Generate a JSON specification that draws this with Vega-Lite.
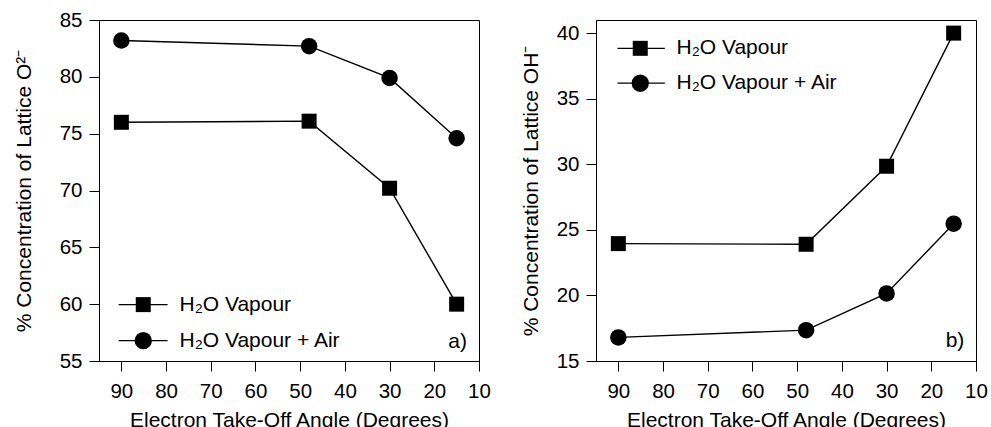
{
  "$schema": "https://vega.github.io/schema/vega-lite/v6.json",
  "padding": {"left": 12, "top": 9, "right": 0, "bottom": 0},
  "spacing": 28,
  "config": {
    "font": "Liberation Sans",
    "view": {"stroke": "black", "strokeWidth": 1},
    "axis": {"domainColor": "black", "tickColor": "black", "labelColor": "black", "titleColor": "black", "labelFont": "Liberation Sans", "titleFont": "Liberation Sans", "labelFontSize": 20.5, "titleFontSize": 21, "titleFontWeight": "normal", "tickSize": 10, "grid": false, "domainWidth": 1, "tickWidth": 1, "labelFlush": false, "labelOverlap": false}
  },
  "resolve": {"scale": {"x": "independent", "y": "independent", "shape": "independent"}},
  "datasets": {
    "o2": [
      {"series": "H₂O Vapour", "angle": 90, "value": 76.0},
      {"series": "H₂O Vapour", "angle": 48, "value": 76.1},
      {"series": "H₂O Vapour", "angle": 30, "value": 70.2},
      {"series": "H₂O Vapour", "angle": 15, "value": 60.0},
      {"series": "H₂O Vapour + Air", "angle": 90, "value": 83.2},
      {"series": "H₂O Vapour + Air", "angle": 48, "value": 82.7},
      {"series": "H₂O Vapour + Air", "angle": 30, "value": 79.9},
      {"series": "H₂O Vapour + Air", "angle": 15, "value": 74.6}
    ],
    "oh": [
      {"series": "H₂O Vapour", "angle": 90, "value": 23.95},
      {"series": "H₂O Vapour", "angle": 48, "value": 23.9},
      {"series": "H₂O Vapour", "angle": 30, "value": 29.85},
      {"series": "H₂O Vapour", "angle": 15, "value": 40.0},
      {"series": "H₂O Vapour + Air", "angle": 90, "value": 16.8},
      {"series": "H₂O Vapour + Air", "angle": 48, "value": 17.35},
      {"series": "H₂O Vapour + Air", "angle": 30, "value": 20.15},
      {"series": "H₂O Vapour + Air", "angle": 15, "value": 25.47}
    ]
  },
  "hconcat": [
    {
      "width": 380,
      "height": 341,
      "encoding": {
        "x": {"field": "angle", "type": "quantitative", "scale": {"domain": [95, 10], "nice": false, "zero": false}, "axis": {"values": [90, 80, 70, 60, 50, 40, 30, 20, 10], "title": "Electron Take-Off Angle (Degrees)", "labelPadding": 10, "titlePadding": 8}},
        "y": {"field": "value", "type": "quantitative", "scale": {"domain": [55, 85], "nice": false, "zero": false}, "axis": {"values": [55, 60, 65, 70, 75, 80, 85], "title": "% Concentration of Lattice O²⁻", "labelPadding": 7, "titlePadding": 25}}
      },
      "layer": [
        {"data": {"name": "o2"}, "mark": {"type": "line", "color": "black", "strokeWidth": 1.4}, "encoding": {"detail": {"field": "series"}}},
        {
          "data": {"name": "o2"},
          "mark": {"type": "point", "filled": true, "color": "black", "opacity": 1},
          "encoding": {
            "shape": {"field": "series", "type": "nominal", "scale": {"domain": ["H₂O Vapour", "H₂O Vapour + Air"], "range": ["square", "circle"]}, "legend": null},
            "size": {"condition": {"test": "datum.series === 'H₂O Vapour + Air'", "value": 272}, "value": 225}
          }
        },
        {"data": {"name": "o2"}, "transform": [{"filter": "datum.angle === 90 && datum.series === 'H₂O Vapour'"}], "mark": {"type": "rule", "color": "black", "strokeWidth": 1.3}, "encoding": {"x": {"datum": 90.6}, "x2": {"datum": 79.65}, "y": {"datum": 59.96}}},
        {"data": {"name": "o2"}, "transform": [{"filter": "datum.angle === 90 && datum.series === 'H₂O Vapour'"}], "mark": {"type": "rule", "color": "black", "strokeWidth": 1.3}, "encoding": {"x": {"datum": 90.6}, "x2": {"datum": 79.65}, "y": {"datum": 56.79}}},
        {"data": {"name": "o2"}, "transform": [{"filter": "datum.angle === 90 && datum.series === 'H₂O Vapour'"}], "mark": {"type": "point", "shape": "square", "filled": true, "color": "black", "opacity": 1, "size": 225}, "encoding": {"x": {"datum": 85.1}, "y": {"datum": 59.96}}},
        {"data": {"name": "o2"}, "transform": [{"filter": "datum.angle === 90 && datum.series === 'H₂O Vapour'"}], "mark": {"type": "point", "shape": "circle", "filled": true, "color": "black", "opacity": 1, "size": 300}, "encoding": {"x": {"datum": 85.1}, "y": {"datum": 56.79}}},
        {"data": {"name": "o2"}, "transform": [{"filter": "datum.angle === 90 && datum.series === 'H₂O Vapour'"}], "mark": {"type": "text", "text": "H₂O Vapour", "fontSize": 21, "align": "left", "baseline": "middle", "color": "black", "font": "Liberation Sans"}, "encoding": {"x": {"datum": 77.0}, "y": {"datum": 59.96}}},
        {"data": {"name": "o2"}, "transform": [{"filter": "datum.angle === 90 && datum.series === 'H₂O Vapour'"}], "mark": {"type": "text", "text": "H₂O Vapour + Air", "fontSize": 21, "align": "left", "baseline": "middle", "color": "black", "font": "Liberation Sans"}, "encoding": {"x": {"datum": 77.0}, "y": {"datum": 56.79}}},
        {"data": {"name": "o2"}, "transform": [{"filter": "datum.angle === 90 && datum.series === 'H₂O Vapour'"}], "mark": {"type": "text", "text": "a)", "fontSize": 21, "align": "right", "baseline": "alphabetic", "color": "black", "font": "Liberation Sans"}, "encoding": {"x": {"datum": 12.7}, "y": {"datum": 56.18}}}
      ]
    },
    {
      "width": 380,
      "height": 341,
      "encoding": {
        "x": {"field": "angle", "type": "quantitative", "scale": {"domain": [95, 10], "nice": false, "zero": false}, "axis": {"values": [90, 80, 70, 60, 50, 40, 30, 20, 10], "title": "Electron Take-Off Angle (Degrees)", "labelPadding": 10, "titlePadding": 8}},
        "y": {"field": "value", "type": "quantitative", "scale": {"domain": [15, 41], "nice": false, "zero": false}, "axis": {"values": [15, 20, 25, 30, 35, 40], "title": "% Concentration of Lattice OH⁻", "labelPadding": 7, "titlePadding": 15}}
      },
      "layer": [
        {"data": {"name": "oh"}, "mark": {"type": "line", "color": "black", "strokeWidth": 1.4}, "encoding": {"detail": {"field": "series"}}},
        {
          "data": {"name": "oh"},
          "mark": {"type": "point", "filled": true, "color": "black", "opacity": 1},
          "encoding": {
            "shape": {"field": "series", "type": "nominal", "scale": {"domain": ["H₂O Vapour", "H₂O Vapour + Air"], "range": ["square", "circle"]}, "legend": null},
            "size": {"condition": {"test": "datum.series === 'H₂O Vapour + Air'", "value": 272}, "value": 225}
          }
        },
        {"data": {"name": "oh"}, "transform": [{"filter": "datum.angle === 90 && datum.series === 'H₂O Vapour'"}], "mark": {"type": "rule", "color": "black", "strokeWidth": 1.3}, "encoding": {"x": {"datum": 90.2}, "x2": {"datum": 79.6}, "y": {"datum": 38.84}}},
        {"data": {"name": "oh"}, "transform": [{"filter": "datum.angle === 90 && datum.series === 'H₂O Vapour'"}], "mark": {"type": "rule", "color": "black", "strokeWidth": 1.3}, "encoding": {"x": {"datum": 90.2}, "x2": {"datum": 79.6}, "y": {"datum": 36.18}}},
        {"data": {"name": "oh"}, "transform": [{"filter": "datum.angle === 90 && datum.series === 'H₂O Vapour'"}], "mark": {"type": "point", "shape": "square", "filled": true, "color": "black", "opacity": 1, "size": 225}, "encoding": {"x": {"datum": 85.1}, "y": {"datum": 38.84}}},
        {"data": {"name": "oh"}, "transform": [{"filter": "datum.angle === 90 && datum.series === 'H₂O Vapour'"}], "mark": {"type": "point", "shape": "circle", "filled": true, "color": "black", "opacity": 1, "size": 300}, "encoding": {"x": {"datum": 85.1}, "y": {"datum": 36.18}}},
        {"data": {"name": "oh"}, "transform": [{"filter": "datum.angle === 90 && datum.series === 'H₂O Vapour'"}], "mark": {"type": "text", "text": "H₂O Vapour", "fontSize": 21, "align": "left", "baseline": "middle", "color": "black", "font": "Liberation Sans"}, "encoding": {"x": {"datum": 77.0}, "y": {"datum": 38.84}}},
        {"data": {"name": "oh"}, "transform": [{"filter": "datum.angle === 90 && datum.series === 'H₂O Vapour'"}], "mark": {"type": "text", "text": "H₂O Vapour + Air", "fontSize": 21, "align": "left", "baseline": "middle", "color": "black", "font": "Liberation Sans"}, "encoding": {"x": {"datum": 77.0}, "y": {"datum": 36.18}}},
        {"data": {"name": "oh"}, "transform": [{"filter": "datum.angle === 90 && datum.series === 'H₂O Vapour'"}], "mark": {"type": "text", "text": "b)", "fontSize": 21, "align": "right", "baseline": "alphabetic", "color": "black", "font": "Liberation Sans"}, "encoding": {"x": {"datum": 12.6}, "y": {"datum": 16.07}}}
      ]
    }
  ]
}
